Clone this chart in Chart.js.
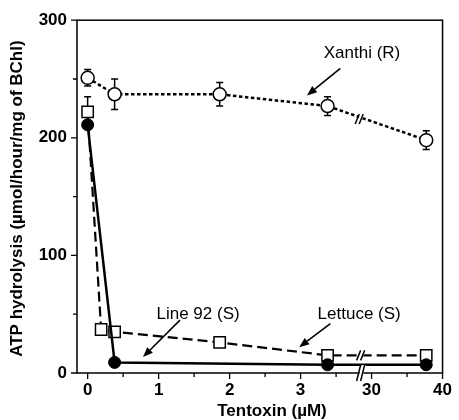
<!DOCTYPE html>
<html><head><meta charset="utf-8">
<script src="https://cdn.jsdelivr.net/npm/chart.js@4.4.0/dist/chart.umd.min.js"></script>
<style>html,body{margin:0;padding:0;background:#fff}</style>
</head><body>
<canvas id="c" width="459" height="420" style="width:459px;height:420px;display:block"></canvas>
<script>
// ---- data ----
const xTickValues = [0, 1, 2, 3, 30, 40];
const xMinorTicks = [0.5, 1.5, 2.5, 3.5, 35];
const yTickValues = [0, 100, 200, 300];
const yMinorTicks = [50, 150, 250];

const xanthiX = [0, 0.38, 1.86, 3.38, 37.7];
const xanthiY = [251, 237, 237, 227, 198];
const xanthiErr = [7, 13, 10, 8, 8];

const lettuceX = [0, 0.19, 0.38, 1.86, 3.38, 37.7];
const lettuceY = [222, 37, 35, 26, 15, 15];
const lettuceErr = [13, 0, 0, 0, 0, 0];

const line92X = [0, 0.38, 3.38, 37.7];
const line92Y = [211, 9, 7, 7];

// broken axis: 0..4 linear, 30..40 compressed (10 units -> 1)
function toAxis(x) { return x <= 4 ? x : 4 + (x - 30) / 10; }
function pts(xs, ys) { return xs.map((x, i) => ({ x: toAxis(x), y: ys[i] })); }

const FONT = '"Liberation Sans", Arial, Helvetica, sans-serif';

const overlay = {
  id: 'overlay',
  beforeDatasetsDraw(chart) {
    const { ctx, chartArea: a, scales: { x, y } } = chart;
    ctx.save();
    ctx.strokeStyle = '#000';
    ctx.lineWidth = 1.5;
    ctx.strokeRect(a.left, a.top, a.right - a.left, a.bottom - a.top);
    // ticks
    ctx.lineWidth = 1.3;
    ctx.beginPath();
    xTickValues.forEach(v => { const px = x.getPixelForValue(toAxis(v)); ctx.moveTo(px, a.bottom); ctx.lineTo(px, a.bottom + 6); });
    xMinorTicks.forEach(v => { const px = x.getPixelForValue(toAxis(v)); ctx.moveTo(px, a.bottom); ctx.lineTo(px, a.bottom + 4); });
    yTickValues.forEach(v => { const py = y.getPixelForValue(v); ctx.moveTo(a.left, py); ctx.lineTo(a.left - 6, py); });
    yMinorTicks.forEach(v => { const py = y.getPixelForValue(v); ctx.moveTo(a.left, py); ctx.lineTo(a.left - 4, py); });
    ctx.stroke();
    // error bars
    const drawErr = (xs, ys, es) => {
      xs.forEach((xv, i) => {
        if (!es[i]) return;
        const px = x.getPixelForValue(toAxis(xv));
        const p1 = y.getPixelForValue(ys[i] + es[i]);
        const p2 = y.getPixelForValue(ys[i] - es[i]);
        ctx.beginPath();
        ctx.moveTo(px, p1); ctx.lineTo(px, p2);
        ctx.moveTo(px - 3.5, p1); ctx.lineTo(px + 3.5, p1);
        ctx.moveTo(px - 3.5, p2); ctx.lineTo(px + 3.5, p2);
        ctx.stroke();
      });
    };
    ctx.lineWidth = 1.5;
    drawErr(xanthiX, xanthiY, xanthiErr);
    drawErr(lettuceX, lettuceY, lettuceErr);
    ctx.restore();
  },
  afterDatasetsDraw(chart) {
    const { ctx, chartArea: a, scales: { x, y } } = chart;
    const P = (dx, v) => [x.getPixelForValue(dx), y.getPixelForValue(v)];
    ctx.save();
    // break marks
    const brk = (dx, v, h) => {
      const [px, py] = P(dx, v);
      ctx.fillStyle = '#fff';
      ctx.beginPath();
      ctx.moveTo(px - 4, py + h); ctx.lineTo(px + 0, py - h);
      ctx.lineTo(px + 4, py - h); ctx.lineTo(px, py + h); ctx.closePath();
      ctx.fill();
      ctx.strokeStyle = '#000'; ctx.lineWidth = 1.5;
      ctx.beginPath();
      ctx.moveTo(px - 5, py + h); ctx.lineTo(px - 1, py - h);
      ctx.moveTo(px - 1, py + h); ctx.lineTo(px + 3, py - h);
      ctx.stroke();
    };
    brk(3.84, 216, 5);
    brk(3.86, 15, 5);
    brk(3.86, 0, 8);
    // annotation labels
    ctx.fillStyle = '#000';
    ctx.font = '17px ' + FONT;
    ctx.textBaseline = 'middle';
    ctx.textAlign = 'center';
    let p = P(3.865, 272); ctx.fillText('Xanthi (R)', p[0], p[1]);
    ctx.textAlign = 'left';
    p = P(0.97, 50); ctx.fillText('Line 92 (S)', p[0], p[1]);
    p = P(3.24, 50); ctx.fillText('Lettuce (S)', p[0], p[1]);
    // arrows
    const arrow = (a1, b1, a2, b2) => {
      const [x1, y1] = P(a1, b1), [x2, y2] = P(a2, b2);
      const ang = Math.atan2(y2 - y1, x2 - x1);
      const L = 10, W = 4;
      const bx = x2 - L * Math.cos(ang), by = y2 - L * Math.sin(ang);
      ctx.strokeStyle = '#000'; ctx.lineWidth = 1.6;
      ctx.beginPath(); ctx.moveTo(x1, y1); ctx.lineTo(bx, by); ctx.stroke();
      ctx.beginPath();
      ctx.moveTo(x2, y2);
      ctx.lineTo(bx + W * Math.sin(ang), by - W * Math.cos(ang));
      ctx.lineTo(bx - W * Math.sin(ang), by + W * Math.cos(ang));
      ctx.closePath(); ctx.fill();
    };
    arrow(3.56, 259, 3.09, 236);
    arrow(1.30, 45, 0.78, 13.5);
    arrow(3.42, 42, 2.98, 22);
    // axis titles
    ctx.font = 'bold 17px ' + FONT;
    ctx.textAlign = 'center';
    ctx.fillText('Tentoxin (\u00B5M)', 272, 411);
    ctx.translate(17, (a.top + a.bottom) / 2 + 2);
    ctx.rotate(-Math.PI / 2);
    ctx.fillText('ATP hydrolysis (\u00B5mol/hour/mg of BChl)', 0, 0);
    ctx.restore();
  }
};

new Chart(document.getElementById('c'), {
  type: 'line',
  data: {
    datasets: [
      {
        label: 'Line 92 (S)', data: pts(line92X, line92Y),
        borderColor: '#000', borderWidth: 2.5, backgroundColor: '#000',
        pointStyle: 'circle', pointRadius: 6, pointBorderWidth: 1, pointBackgroundColor: '#000'
      },
      {
        label: 'Lettuce (S)', data: pts(lettuceX, lettuceY),
        borderColor: '#000', borderWidth: 2.2, borderDash: [10, 5],
        pointStyle: 'rect', pointRadius: 8, pointBorderWidth: 1.5, pointBackgroundColor: '#fff'
      },
      {
        label: 'Xanthi (R)', data: pts(xanthiX, xanthiY),
        borderColor: '#000', borderWidth: 2.5, borderDash: [3.5, 2.5],
        pointStyle: 'circle', pointRadius: 6.5, pointBorderWidth: 1.5, pointBackgroundColor: '#fff'
      }
    ]
  },
  options: {
    responsive: false, animation: false,
    layout: { padding: { top: 18, right: 10, left: 0, bottom: 0 } },
    plugins: { legend: { display: false }, tooltip: { enabled: false } },
    elements: { line: { tension: 0 } },
    scales: {
      x: {
        type: 'linear', min: -0.15, max: 5,
        border: { display: false },
        grid: { display: false, drawTicks: false },
        afterBuildTicks: s => { s.ticks = xTickValues.map(v => ({ value: toAxis(v) })); },
        afterFit: s => { s.height = 47; },
        ticks: {
          color: '#000', padding: 7, maxRotation: 0, autoSkip: false,
          font: { family: FONT, size: 17, weight: 'bold' },
          callback: v => { const i = xTickValues.findIndex(t => Math.abs(toAxis(t) - v) < 1e-6); return i >= 0 ? String(xTickValues[i]) : ''; }
        }
      },
      y: {
        type: 'linear', min: 0, max: 300,
        border: { display: false },
        grid: { display: false, drawTicks: false },
        afterBuildTicks: s => { s.ticks = yTickValues.map(v => ({ value: v })); },
        afterFit: s => { s.width = 77; },
        ticks: { color: '#000', padding: 10, font: { family: FONT, size: 17, weight: 'bold' } }
      }
    }
  },
  plugins: [overlay]
});
</script>
</body></html>
